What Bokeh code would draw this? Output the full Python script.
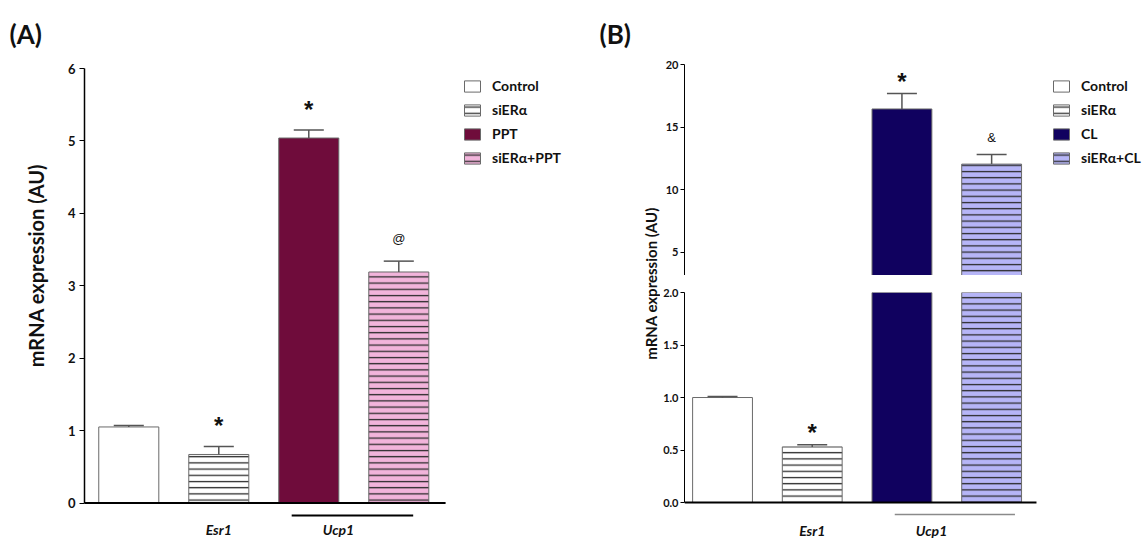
import math
from bokeh.plotting import figure
from bokeh.models import (Range1d, FixedTicker, Legend, LegendItem,
                          ColumnDataSource, PrintfTickFormatter)
from bokeh.layouts import row, column
from bokeh.embed import file_html
from bokeh.resources import INLINE
from bokeh.core.properties import value, field

# ---------------- data ----------------
groups_a = ["Control", "siERα", "PPT", "siERα+PPT"]
mean_a = [1.05, 0.67, 5.04, 3.19]
sem_a = [0.02, 0.11, 0.11, 0.15]
sig_a = ["", "*", "*", "@"]

groups_b = ["Control", "siERα", "CL", "siERα+CL"]
mean_b = [1.00, 0.53, 16.45, 12.05]
sem_b = [0.01, 0.02, 1.24, 0.77]
sig_b = ["", "*", "*", "&"]

genes = ["Esr1", "Ucp1"]
ticks_a = [0, 1, 2, 3, 4, 5, 6]
ticks_b_upper = [5, 10, 15, 20]
ticks_b_lower = [0.0, 0.5, 1.0, 1.5, 2.0]
y_label = "mRNA expression (AU)"

# ---------------- styles ----------------
FONT = "Lato"
SYM_FONT = "Liberation Sans"
fill_a = ["#FFFFFF", "#FFFFFF", "#6F0C3B", "#F2B4DB"]
fill_b = ["#FFFFFF", "#FFFFFF", "#10015F", "#B6B5F7"]
hatch = [" ", "-", " ", "-"]
BAR_W = 0.667
CAP = 0.167
gene_x = [1.0, 2.33]

H = 539


def bars(p, means, fills):
    src = ColumnDataSource(dict(x=list(range(len(means))), top=means,
                                fill=fills, pat=hatch))
    return p.vbar(x="x", top="top", bottom=0, width=BAR_W, source=src,
                  fill_color=field("fill"), line_color="#6a6a6a", line_width=1,
                  hatch_pattern=field("pat"), hatch_color="#2a2a2a",
                  hatch_scale=6.2, hatch_weight=1.3)


def errbars(p, means, sems):
    xs = list(range(len(means)))
    tops = [m + s for m, s in zip(means, sems)]
    p.segment(x0=xs, y0=means, x1=xs, y1=tops, line_color="#555555", line_width=1.5)
    p.segment(x0=[x - CAP for x in xs], y0=tops, x1=[x + CAP for x in xs], y1=tops,
              line_color="#555555", line_width=1.5)


def marks(p, means, sems, sigs, star_off, other_off):
    lo, hi = p.y_range.start, p.y_range.end
    xs = list(range(len(means)))
    tops = [m + s for m, s in zip(means, sems)]
    inside = [lo <= t <= hi for t in tops]
    st = [i for i, s in enumerate(sigs) if s == "*" and inside[i]]
    ot = [i for i, s in enumerate(sigs) if s not in ("", "*") and inside[i]]
    if st:
        p.text(x=[xs[i] for i in st], y=[tops[i] for i in st], text=[sigs[i] for i in st],
               text_font=value(SYM_FONT), text_font_style="bold", text_font_size="24px",
               text_align="center", text_baseline="middle", y_offset=star_off,
               text_color="#111111")
    if ot:
        p.text(x=[xs[i] for i in ot], y=[tops[i] for i in ot], text=[sigs[i] for i in ot],
               text_font=value(SYM_FONT), text_font_size="13px",
               text_align="center", text_baseline="middle", y_offset=other_off,
               text_color="#111111")


def gene_labels(p, off):
    p.text(x=gene_x, y=[0, 0], text=genes, text_font=value(FONT),
           text_font_style="bold italic", text_font_size="14px",
           text_align="center", text_baseline="top", y_offset=off,
           text_color="#111111")


def style_yaxis(ax, size, standoff):
    ax.axis_line_color = "#000000"
    ax.axis_line_width = 1.5
    ax.major_tick_out = 5
    ax.major_tick_in = 0
    ax.major_tick_line_color = "#000000"
    ax.minor_tick_line_color = None
    ax.major_label_text_font = FONT
    ax.major_label_text_font_style = "bold"
    ax.major_label_text_font_size = size
    ax.major_label_text_color = "#111111"
    ax.major_label_standoff = standoff


def clean(p):
    p.grid.visible = False
    p.outline_line_color = None
    p.background_fill_color = "white"
    p.border_fill_color = "white"
    p.frame_align = False


def make_legend(p, r, labels, loc):
    items = [LegendItem(label=lab, renderers=[r], index=i) for i, lab in enumerate(labels)]
    lg = Legend(items=items, location=loc, glyph_width=20, glyph_height=14,
                label_standoff=10, spacing=7, padding=0, margin=0,
                label_height=14, border_line_color=None, background_fill_alpha=0,
                label_text_font=FONT, label_text_font_style="bold",
                label_text_font_size="14px", label_text_color="#111111")
    p.add_layout(lg, "center")


def text_fig(w, h):
    f = figure(width=w, height=h, x_range=Range1d(0, w), y_range=Range1d(0, h),
               toolbar_location=None, output_backend="svg",
               x_axis_location=None, y_axis_location=None,
               min_border_left=0, min_border_right=0, min_border_top=0, min_border_bottom=0)
    clean(f)
    return f


# ---------------- left label strip (A) ----------------
la = text_fig(50, H)
la.text(x=[9], y=[H - 33], text=["(A)"], text_font=value(FONT), text_font_style="bold",
        text_font_size="26px", text_align="left", text_baseline="middle", text_color="#111111")
la.text(x=[35], y=[H - 265], text=[y_label], angle=math.pi / 2, text_font=value(FONT),
        text_font_style="bold", text_font_size="20px", text_align="center",
        text_baseline="middle", text_color="#111111")

# ---------------- panel A ----------------
pa = figure(width=540, height=H, frame_width=506, frame_height=471,
            x_range=Range1d(-0.492, 5.13), y_range=Range1d(-0.504, 6),
            min_border_left=34, min_border_right=0, min_border_top=68, min_border_bottom=0,
            toolbar_location=None, output_backend="svg", x_axis_location=None)
clean(pa)
style_yaxis(pa.yaxis[0], "13px", 4)
pa.yaxis[0].ticker = FixedTicker(ticks=ticks_a)
pa.yaxis[0].bounds = (0, 6)
ra = bars(pa, mean_a, fill_a)
errbars(pa, mean_a, sem_a)
marks(pa, mean_a, sem_a, sig_a, -21, -23)
pa.segment(x0=[-0.492], y0=[0], x1=[3.52], y1=[0], line_color="#000000", line_width=2)
pa.segment(x0=[1.81], y0=[-0.173], x1=[3.16], y1=[-0.173], line_color="#000000", line_width=2)
gene_labels(pa, 18)
make_legend(pa, ra, groups_a, (378, 373))

# ---------------- left label strip (B) ----------------
lb = text_fig(70, H)
lb.text(x=[9], y=[H - 33], text=["(B)"], text_font=value(FONT), text_font_style="bold",
        text_font_size="26px", text_align="left", text_baseline="middle", text_color="#111111")
lb.text(x=[60], y=[H - 283], text=[y_label], angle=math.pi / 2, text_font=value(FONT),
        text_font_style="bold", text_font_size="15px", text_align="center",
        text_baseline="middle", text_color="#111111")

# ---------------- panel B ----------------
FW_B = 464
xr_b = Range1d(-0.424, -0.424 + FW_B / 89.7)
pbu = figure(width=488, height=275, frame_width=FW_B, frame_height=211,
             x_range=xr_b, y_range=Range1d(3.16, 20),
             min_border_left=24, min_border_right=0, min_border_top=64, min_border_bottom=0,
             toolbar_location=None, output_backend="svg", x_axis_location=None)
clean(pbu)
style_yaxis(pbu.yaxis[0], "11px", 2)
pbu.yaxis[0].axis_line_width = 1
pbu.yaxis[0].major_tick_out = 4
pbu.yaxis[0].ticker = FixedTicker(ticks=ticks_b_upper)
pbu.yaxis[0].bounds = (3.16, 20)
rbu = bars(pbu, mean_b, fill_b)
errbars(pbu, mean_b, sem_b)
marks(pbu, mean_b, sem_b, sig_b, -12, -17)
make_legend(pbu, rbu, groups_b, (367, 109))

pbl = figure(width=488, height=264, frame_width=FW_B, frame_height=247,
             x_range=xr_b, y_range=Range1d(-0.352, 2.0),
             min_border_left=24, min_border_right=0, min_border_top=17, min_border_bottom=0,
             toolbar_location=None, output_backend="svg", x_axis_location=None)
clean(pbl)
style_yaxis(pbl.yaxis[0], "11px", 2)
pbl.yaxis[0].axis_line_width = 1
pbl.yaxis[0].major_tick_out = 4
pbl.yaxis[0].ticker = FixedTicker(ticks=ticks_b_lower)
pbl.yaxis[0].formatter = PrintfTickFormatter(format="%.1f")
pbl.yaxis[0].bounds = (0, 2.0)
bars(pbl, mean_b, fill_b)
errbars(pbl, mean_b, sem_b)
marks(pbl, mean_b, sem_b, sig_b, -12, -17)
pbl.segment(x0=[-0.424], y0=[0], x1=[3.5], y1=[0], line_color="#000000", line_width=2)
pbl.segment(x0=[1.92], y0=[-0.114], x1=[3.26], y1=[-0.114], line_color="#8a8a8a", line_width=1.5)
gene_labels(pbl, 19)

layout = row(la, pa, lb, column(pbu, pbl))
open("out.html", "w").write(file_html(layout, INLINE))
